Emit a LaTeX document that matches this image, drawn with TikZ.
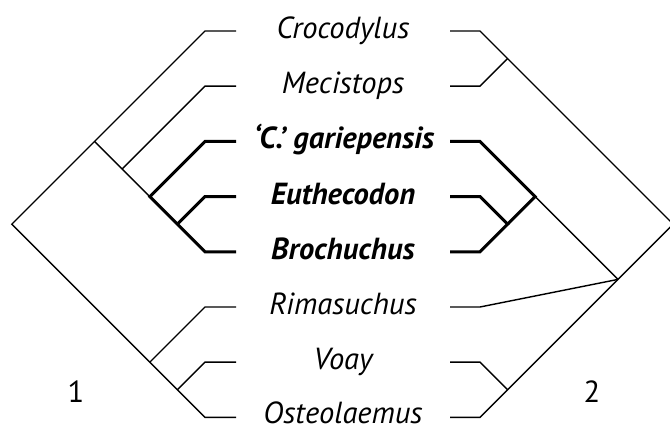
\documentclass[tikz,border=0pt]{standalone}
\usepackage{fontspec}
\setmainfont{PT Sans}
\begin{document}
\begin{tikzpicture}[x=1pt,y=-1pt,
  thinline/.style={line width=1.4pt},
  boldline/.style={line width=3pt},
  taxon/.style={font=\fontsize{30.5}{32}\selectfont\itshape, anchor=base, inner sep=0pt},
  btaxon/.style={taxon, font=\fontsize{30.5}{32}\selectfont\bfseries\itshape},
  numlabel/.style={font=\fontsize{30.5}{32}\selectfont, anchor=base, inner sep=0pt}]
\useasboundingbox (0,0) rectangle (670,427);
% taxon rows
\foreach \i/\y in {1/31,2/86.2,3/141.4,4/196.6,5/251.8,6/307,7/362.2,8/417.4}{
  \coordinate (lA\i) at (205,\y);
  \coordinate (lB\i) at (236,\y);
  \coordinate (rB\i) at (450,\y);
  \coordinate (rA\i) at (480,\y);
}
\node[taxon]  (t1) at (343,38.5)    {Crocodylus};
\node[taxon]  (t2) at (343,93.7)  {Mecistops};
\node[btaxon] (t3) at (344,148.9) {‘C.’ gariepensis};
\node[btaxon] (t4) at (343,204.1) {Euthecodon};
\node[btaxon] (t5) at (343,259.3) {Brochuchus};
\node[taxon]  (t6) at (343,314.5)   {Rimasuchus};
\node[taxon]  (t7) at (343,369.7) {Voay};
\node[taxon, text depth=0pt]  (t8) at (343,423.5) {Osteolaemus};
\node[numlabel] (n1) at (76,403)  {1};
\node[numlabel] (n2) at (592,403) {2};
% internal nodes, left tree
\coordinate (lroot) at (11.8,224.2);
\coordinate (la) at (94.6,141.4);
\coordinate (lb) at (122.2,169);
\coordinate (lc) at (149.8,196.6);
\coordinate (ld) at (177.4,224.2);
\coordinate (le) at (149.8,362.2);
\coordinate (lf) at (177.4,389.8);
% internal nodes, right tree
\coordinate (rg) at (507.6,58.6);
\coordinate (rh) at (535.2,196.6);
\coordinate (ri) at (507.6,224.2);
\coordinate (rj) at (507.6,389.8);
\coordinate (rk) at (618,279.4);
\coordinate (rroot) at (673.2,224.2);
% left tree, thin
\draw[thinline] (lB1) -- (lA1) -- (lroot) -- (lA8) -- (lB8);
\draw[thinline] (la) -- (lc);
\draw[thinline] (lb) -- (lA2) -- (lB2);
\draw[thinline] (le) -- (lA6) -- (lB6);
\draw[thinline] (lf) -- (lA7) -- (lB7);
% left tree, bold
\draw[boldline] (lB3) -- (lA3) -- (lc) -- (lA5) -- (lB5);
\draw[boldline] (ld) -- (lA4) -- (lB4);
% right tree, thin
\draw[thinline] (rB1) -- (rA1) -- (rroot) -- (rA8) -- (rB8);
\draw[thinline] (rB2) -- (rA2) -- (rg);
\draw[thinline] (rh) -- (rk);
\draw[thinline] (rB6) -- (rA6) -- (rk);
\draw[thinline] (rB7) -- (rA7) -- (rj);
% right tree, bold
\draw[boldline] (rB3) -- (rA3) -- (rh) -- (ri);
\draw[boldline] (rB4) -- (rA4) -- (ri) -- (rA5) -- (rB5);
\end{tikzpicture}
\end{document}
